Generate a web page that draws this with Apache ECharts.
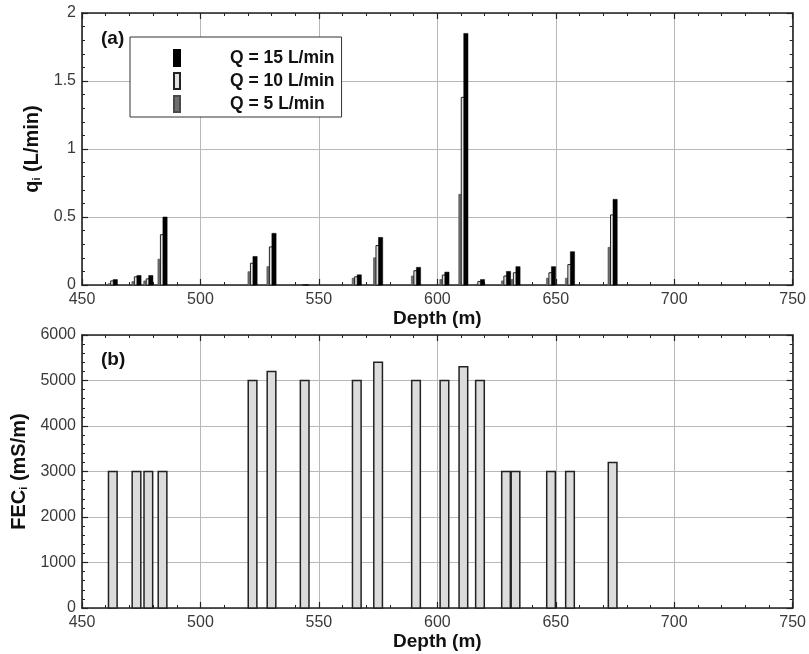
<!DOCTYPE html>
<html>
<head>
<meta charset="utf-8">
<script src="https://cdn.jsdelivr.net/npm/echarts@6/dist/echarts.min.js"></script>
<style>html,body{margin:0;padding:0;background:#fff}#c{width:809px;height:654px}</style>
</head>
<body>
<div id="c"></div>
<script>
// ---- data ----
const depths = [463, 473, 478, 484, 522, 530, 544, 566, 575, 591, 603, 611, 618, 629, 633, 648, 656, 674];
const q15 = [0.04, 0.07, 0.07, 0.50, 0.21, 0.38, 0, 0.075, 0.35, 0.13, 0.095, 1.85, 0.04, 0.10, 0.135, 0.135, 0.245, 0.63];
const q10 = [0.03, 0.06, 0.045, 0.37, 0.16, 0.28, 0, 0.06, 0.29, 0.105, 0.073, 1.38, 0.025, 0.066, 0.09, 0.09, 0.15, 0.515];
const q5  = [0.01, 0.025, 0.03, 0.19, 0.098, 0.135, 0, 0.05, 0.20, 0.066, 0.04, 0.667, 0.005, 0.03, 0.04, 0.05, 0.05, 0.277];
const fec = [3000, 3000, 3000, 3000, 5000, 5200, 5000, 5000, 5400, 5000, 5000, 5300, 5000, 3000, 3000, 3000, 3000, 3200];
const seriesNames = ['Q = 15 L/min', 'Q = 10 L/min', 'Q = 5 L/min'];
const xTicks = [450, 500, 550, 600, 650, 700, 750];

const FONT = 'Liberation Sans, Arial, sans-serif';
const chart = echarts.init(document.getElementById('c'), null, {renderer: 'canvas'});

function barRenderer(offsetUnits, widthUnits) {
  return function (params, api) {
    const x = api.value(0), y = api.value(1);
    const top = api.coord([x, y]);
    const base = api.coord([x, 0]);
    const w = api.size([widthUnits, 0])[0];
    const off = api.size([Math.abs(offsetUnits), 0])[0] * Math.sign(offsetUnits);
    return {
      type: 'rect',
      shape: {x: top[0] - w / 2 + off, y: top[1], width: w, height: base[1] - top[1]},
      style: api.style()
    };
  };
}
const pairs = arr => depths.map((d, i) => [d, arr[i]]);

function xAxisPair(gridIndex) {
  const common = {
    type: 'value', gridIndex, min: xTicks[0], max: xTicks[xTicks.length - 1], interval: 50,
    axisLine: {onZero: false, lineStyle: {color: '#222', width: 1.6}},
    axisTick: {show: true, inside: true, length: 6, lineStyle: {color: '#222', width: 1.2}},
    minorTick: {show: true, splitNumber: 5, length: 3, lineStyle: {color: '#222', width: 1}}
  };
  return [
    Object.assign({}, common, {
      position: 'bottom',
      name: 'Depth (m)', nameLocation: 'middle', nameGap: 21,
      nameTextStyle: {fontFamily: FONT, fontSize: 19, fontWeight: 'bold', color: '#111'},
      axisLabel: {show: true, margin: 7, fontFamily: FONT, fontSize: 16, color: '#3a3a3a',
        formatter: v => xTicks.indexOf(v) >= 0 ? String(v) : ''},
      splitLine: {show: true, lineStyle: {color: '#b8b8b8', width: 1}}
    }),
    Object.assign({}, common, {
      position: 'top', axisLabel: {show: false}, splitLine: {show: false}
    })
  ];
}

function yAxisPair(gridIndex, max, interval, nameRich, nameGap) {
  const common = {
    type: 'value', gridIndex, min: 0, max, interval,
    axisLine: {show: true, onZero: false, lineStyle: {color: '#222', width: 1.6}},
    axisTick: {show: true, inside: true, length: 6, lineStyle: {color: '#222', width: 1.2}},
    minorTick: {show: true, splitNumber: 5, length: 3, lineStyle: {color: '#222', width: 1}}
  };
  return [
    Object.assign({}, common, {
      position: 'left',
      name: nameRich, nameLocation: 'middle', nameGap, nameRotate: 90,
      nameTextStyle: {
        fontFamily: FONT, fontSize: 20, fontWeight: 'bold', color: '#111',
        rich: {
          m: {fontFamily: FONT, fontSize: 20, fontWeight: 'bold', color: '#111'},
          s: {fontFamily: FONT, fontSize: 11, fontWeight: 'bold', color: '#111', padding: [10, 0, 0, 0]}
        }
      },
      axisLabel: {show: true, margin: 6, fontFamily: FONT, fontSize: 16, color: '#3a3a3a',
        formatter: v => String(v)},
      splitLine: {show: true, lineStyle: {color: '#b8b8b8', width: 1}}
    }),
    Object.assign({}, common, {
      position: 'right', axisLabel: {show: false}, splitLine: {show: false}
    })
  ];
}

const xa = xAxisPair(0).concat(xAxisPair(1));
const ya = yAxisPair(0, 2, 0.5, '{m|q}{s|i}{m| (L/min)}', 33)
  .concat(yAxisPair(1, 6000, 1000, '{m|FEC}{s|i}{m| (mS/m)}', 50));

const option = {
  backgroundColor: '#fff',
  animation: false,
  title: [
    {text: '(a)', left: 96, top: 24, textStyle: {fontFamily: FONT, fontSize: 19, fontWeight: 'bold', color: '#111'}},
    {text: '(b)', left: 96, top: 345, textStyle: {fontFamily: FONT, fontSize: 19, fontWeight: 'bold', color: '#111'}}
  ],
  grid: [
    {left: 82, right: 16, top: 13, height: 272},
    {left: 82, right: 16, top: 335, height: 273}
  ],
  xAxis: xa,
  yAxis: ya,
  legend: {
    data: seriesNames,
    orient: 'vertical',
    left: 130, top: 37,
    width: 212,
    padding: [12, 7, 4, 43],
    itemWidth: 6, itemHeight: 16, itemGap: 5,
    icon: 'rect',
    backgroundColor: '#fff',
    borderColor: '#333', borderWidth: 1,
    textStyle: {fontFamily: FONT, fontSize: 17.5, fontWeight: 'bold', color: '#111', lineHeight: 16, padding: [0, 0, 0, 45]}
  },
  series: [
    {
      name: 'Q = 5 L/min', type: 'custom', xAxisIndex: 0, yAxisIndex: 0,
      renderItem: barRenderer(-1.05, 1.8),
      itemStyle: {color: '#6e6e6e', borderColor: '#4a4a4a', borderWidth: 0.6},
      encode: {x: 0, y: 1}, data: pairs(q5), z: 2
    },
    {
      name: 'Q = 10 L/min', type: 'custom', xAxisIndex: 0, yAxisIndex: 0,
      renderItem: barRenderer(0, 1.8),
      itemStyle: {color: '#e2e2e2', borderColor: '#222', borderWidth: 1},
      encode: {x: 0, y: 1}, data: pairs(q10), z: 3
    },
    {
      name: 'Q = 15 L/min', type: 'custom', xAxisIndex: 0, yAxisIndex: 0,
      renderItem: barRenderer(1.05, 1.8),
      itemStyle: {color: '#000', borderColor: '#000', borderWidth: 0.5},
      encode: {x: 0, y: 1}, data: pairs(q15), z: 4
    },
    {
      name: 'FEC', type: 'custom', xAxisIndex: 2, yAxisIndex: 2,
      renderItem: barRenderer(0, 3.65),
      itemStyle: {color: '#dcdcdc', borderColor: '#222', borderWidth: 1.5},
      encode: {x: 0, y: 1}, data: pairs(fec), z: 2
    }
  ]
};
chart.setOption(option);
</script>
</body>
</html>
